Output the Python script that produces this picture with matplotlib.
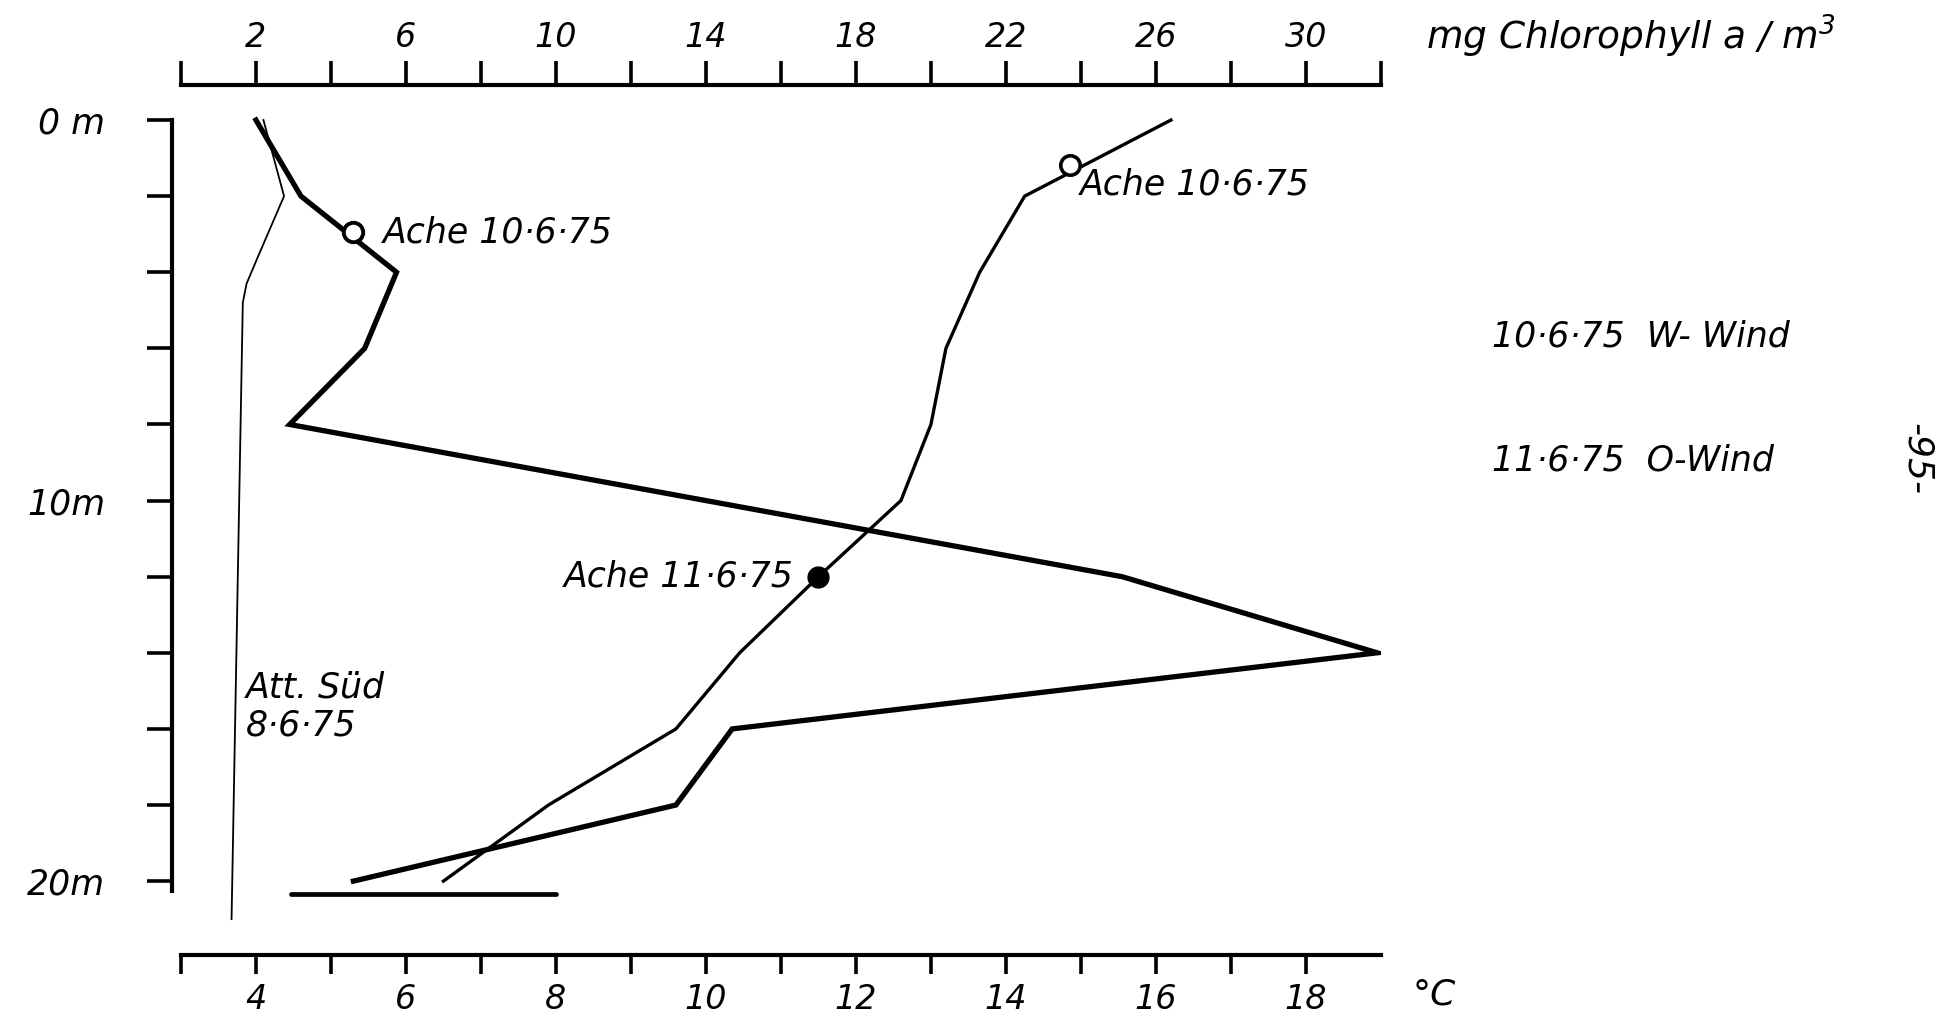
import matplotlib.pyplot as plt

plt.rcParams["font.family"] = ["DejaVu Sans"]
plt.rcParams["font.style"] = "italic"
plt.rcParams["mathtext.default"] = "it"

# Chlorophyll a (mg/m3), Ache 10.6.75 - heavy line, top axis
chl_depth = [0, 2, 4, 6, 8, 12, 14, 16, 18, 20]
chl_ache = [2.0, 3.2, 5.75, 4.9, 2.9, 25.1, 31.9, 14.7, 13.2, 4.6]

# Chlorophyll a, Att. Sued 8.6.75 - thin line, top axis
att_depth = [0, 2, 3.6, 4.3, 4.8, 21]
att_chl = [2.2, 2.75, 2.05, 1.75, 1.65, 1.35]

# Temperature (deg C), Ache - medium line, bottom axis
temp_depth = [0, 2, 4, 6, 8, 10, 12, 14, 16, 18, 20]
temp_ache = [16.2, 14.25, 13.65, 13.2, 13.0, 12.6, 11.5, 10.45, 9.6, 7.9, 6.5]

# curve markers
open_chl, open_chl_depth = [4.6], [2.95]
open_temp, open_temp_depth = [14.86], [1.18]
fill_temp, fill_temp_depth = [11.5], [12.0]

# short bar below the profiles
bar_temp = [4.47, 8.0]
bar_depth = [20.33, 20.33]

depth_ticks = list(range(0, 21, 2))
depth_labels = {0: "0 m", 10: "10m", 20: "20m"}
temp_ticks = list(range(3, 19))
chl_ticks = list(range(0, 33, 2))

fig = plt.figure(figsize=(19.56, 10.17), dpi=100)
ax = fig.add_axes([0.0925, 0.061, 0.6135, 0.8554])
ax.set_xlim(3, 19)
ax.set_ylim(21.94, -0.92)
ax2 = ax.twiny()
ax2.set_xlim(0, 32)

# temperature profile
ax.plot(temp_ache, temp_depth, color="black", lw=2.4, solid_joinstyle="miter")
ax.plot(open_temp, open_temp_depth, "o", ms=14, mfc="white", mec="black", mew=2.6)
ax.plot(fill_temp, fill_temp_depth, "o", ms=15, color="black")
ax.plot(bar_temp, bar_depth, color="black", lw=3.4, solid_capstyle="round")

# chlorophyll profiles
ax2.plot(chl_ache, chl_depth, color="black", lw=3.8, solid_joinstyle="miter")
ax2.plot(att_chl, att_depth, color="black", lw=1.3)
ax2.plot(open_chl, open_chl_depth, "o", ms=14, mfc="white", mec="black", mew=2.8)

# spines
for s in ["right", "top"]:
    ax.spines[s].set_visible(False)
for s in ["left", "right", "bottom"]:
    ax2.spines[s].set_visible(False)
ax.spines["left"].set_position(("outward", 6.5))
ax.spines["left"].set_bounds(0, 20.25)
ax.spines["left"].set_linewidth(3.0)
ax.spines["bottom"].set_linewidth(3.0)
ax2.spines["top"].set_linewidth(3.0)

fs = 25
ax.set_xticks(temp_ticks)
ax.set_xticklabels(["" if t % 2 else str(t) for t in temp_ticks])
ax.tick_params(axis="x", direction="out", length=14, width=2.6, pad=6, labelsize=24)
ax.set_yticks(depth_ticks)
ax.set_yticklabels([depth_labels.get(d, "") for d in depth_ticks])
ax.tick_params(axis="y", direction="out", length=18, width=2.6, pad=30, labelsize=25)

ax2.set_xticks(chl_ticks)
ax2.set_xticklabels(["" if (c - 2) % 4 else str(c) for c in chl_ticks])
ax2.tick_params(axis="x", direction="out", length=17, width=2.6, pad=5, labelsize=24)

# curve labels
ax2.text(5.38, 2.95, "Ache 10·6·75", fontsize=fs, va="center", ha="left")
ax.text(14.98, 1.7, "Ache 10·6·75", fontsize=fs, va="center", ha="left")
ax.text(11.17, 12.0, "Ache 11·6·75", fontsize=fs, va="center", ha="right")
ax.text(3.87, 15.4, "Att. Süd\n8·6·75", fontsize=fs, va="center", ha="left",
        linespacing=1.15)

# axis units and notes
fig.text(0.729, 0.964, "mg Chlorophyll a / m$^3$", fontsize=27, va="center", ha="left")
fig.text(0.722, 0.0226, "°C", fontsize=26, va="center", ha="left")
fig.text(0.763, 0.669, "10·6·75  W- Wind", fontsize=fs, va="center", ha="left")
fig.text(0.763, 0.547, "11·6·75  O-Wind", fontsize=fs, va="center", ha="left")
fig.text(0.980, 0.549, "-95-", fontsize=26, va="center", ha="center", rotation=-90)

fig.savefig("out.png", dpi=100, facecolor="white")
